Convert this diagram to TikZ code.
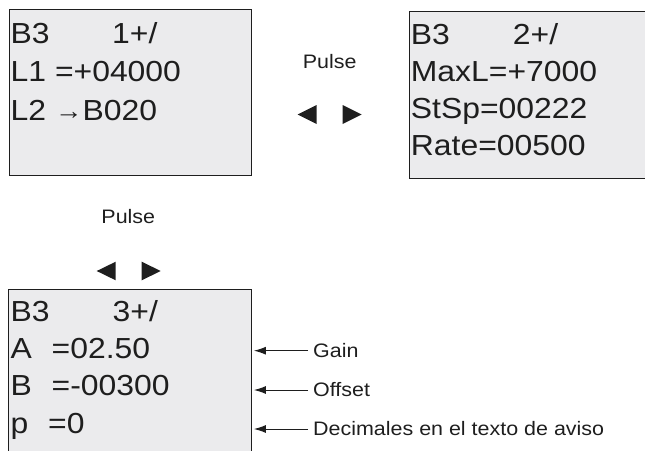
\documentclass[tikz,border=0pt]{standalone}
\usepackage{fontspec}
\usetikzlibrary{arrows.meta}
\newfontfamily\lcdfont[FakeStretch=1.1]{Liberation Sans}
\newfontfamily\lblfont[FakeStretch=1.1]{Liberation Sans}
\definecolor{lcdgray}{RGB}{235,235,237}
\definecolor{ink}{RGB}{30,30,30}
\tikzset{
  lcdbox/.style={draw=ink, line width=1.2pt, fill=lcdgray, inner sep=0, anchor=north west},
  lcdtxt/.style={font=\lcdfont\fontsize{29}{29}\selectfont, anchor=base west, inner sep=0, text=ink},
  lbl/.style={font=\lblfont\fontsize{19.5}{19.5}\selectfont, inner sep=0, text=ink},
  tri/.style={fill=ink},
  annot/.style={draw=ink, line width=1pt, -{Latex[length=12pt,width=8pt]}, shorten >=2pt}
}
\begin{document}
\begin{tikzpicture}[x=1pt,y=-1pt]
\path[use as bounding box] (0,0) rectangle (645,450);
\clip (0,0) rectangle (645,450);
% boxes
\node[lcdbox, minimum width=241.5pt, minimum height=166pt] (box1) at (9,9) {};
\node[lcdbox, minimum width=250pt, minimum height=166.5pt] (box2) at (408.5,11) {};
\node[lcdbox, minimum width=242.7pt, minimum height=180pt] (box3) at (8,289) {};
% box 1 text
\node[lcdtxt] (b1a) at (10.5,43.3) {\makebox[101.5pt][l]{B3}1+/};
\node[lcdtxt] (b1b) at (10.5,81.7) {L1 =+04000};
\node[lcdtxt] (b1c) at (10.5,120) {L2 \raisebox{0.5pt}{\fontsize{25}{25}\selectfont →}B020};
% box 2 text
\node[lcdtxt] (b2a) at (410.7,44) {\makebox[102pt][l]{B3}2+/};
\node[lcdtxt] (b2b) at (410.7,81.7) {MaxL=+7000};
\node[lcdtxt] (b2c) at (410.7,118.5) {StSp=00222};
\node[lcdtxt] (b2d) at (410.7,155.3) {Rate=00500};
% box 3 text
\node[lcdtxt] (b3a) at (10.5,321) {\makebox[102pt][l]{B3}3+/};
\node[lcdtxt] (b3b) at (10.5,358) {\makebox[41pt][l]{A}=02.50};
\node[lcdtxt] (b3c) at (10.5,395.3) {\makebox[41pt][l]{B}=-00300};
\node[lcdtxt] (b3d) at (10.5,433) {\makebox[37.5pt][l]{p}=0};
% pulse labels
\node[lbl, anchor=base] (pulse1) at (329.7,68.3) {Pulse};
\node[lbl, anchor=base] (pulse2) at (128.3,223.3) {Pulse};
% triangles
\fill[tri] (297.7,114.5) -- (316.7,105) -- (316.7,124) -- cycle;
\fill[tri] (361.7,114.5) -- (342.7,105) -- (342.7,124) -- cycle;
\fill[tri] (96.7,271) -- (115.7,261.7) -- (115.7,280.3) -- cycle;
\fill[tri] (160.7,271) -- (141.7,261.7) -- (141.7,280.3) -- cycle;
% annotations
\node[lbl, anchor=base west] (gain) at (313,357.3) {Gain};
\node[lbl, anchor=base west] (offset) at (313,396.5) {Offset};
\node[lbl, anchor=base west] (dec) at (313,435.5) {Decimales en el texto de aviso};
\coordinate (g0) at (308,350.7);
\coordinate (o0) at (308,390);
\coordinate (d0) at (308,429);
\draw[annot] (g0) -- (box3.east |- g0);
\draw[annot] (o0) -- (box3.east |- o0);
\draw[annot] (d0) -- (box3.east |- d0);
\end{tikzpicture}
\end{document}
